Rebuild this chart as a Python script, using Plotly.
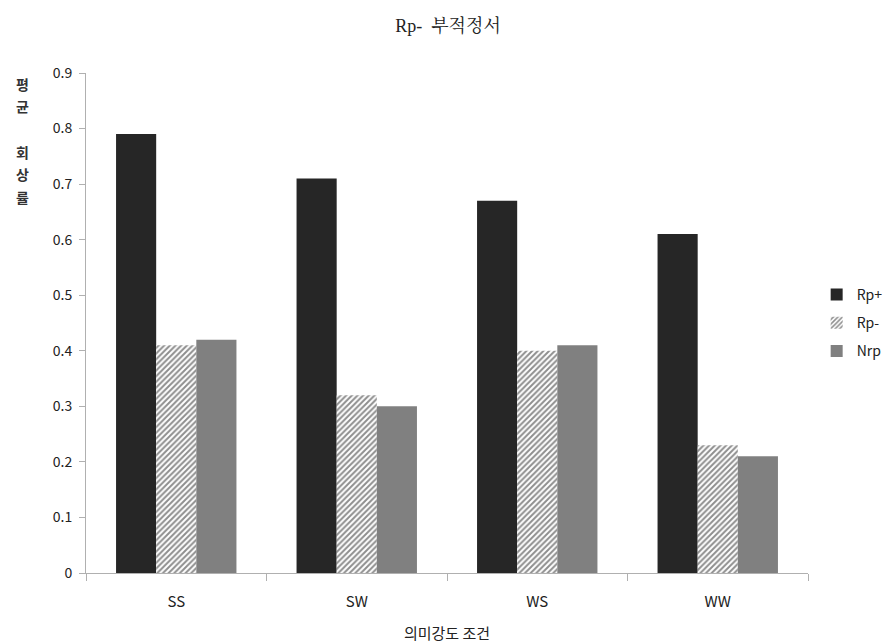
import plotly.graph_objects as go

categories = ["SS", "SW", "WS", "WW"]
rp_plus = [0.79, 0.71, 0.67, 0.61]
rp_minus = [0.41, 0.32, 0.40, 0.23]
nrp = [0.42, 0.30, 0.41, 0.21]
series_names = ["Rp+", "Rp-", "Nrp"]
y_ticks = [0, 0.1, 0.2, 0.3, 0.4, 0.5, 0.6, 0.7, 0.8, 0.9]
y_tick_text = ["0", "0.1", "0.2", "0.3", "0.4", "0.5", "0.6", "0.7", "0.8", "0.9"]
y_title_chars = ["평", "균", "회", "상", "률"]

font_sans = "Noto Sans CJK KR, Noto Sans, sans-serif"

fig = go.Figure()
fig.add_trace(go.Bar(x=categories, y=rp_plus, name=series_names[0], legendgroup="a",
                     marker=dict(color="#262626", line=dict(width=0))))
fig.add_trace(go.Bar(x=categories, y=rp_minus, name=series_names[1], legendgroup="b",
                     marker=dict(color="white", line=dict(width=0),
                                 pattern=dict(shape="/", fgcolor="#1e1e1e", bgcolor="white",
                                              size=4, solidity=0.5))))
fig.add_trace(go.Bar(x=categories, y=nrp, name=series_names[2], legendgroup="c",
                     marker=dict(color="#808080", line=dict(width=0))))

# page body has an 8px default margin, so the figure is sized/offset to compensate
OFF = 8
W, H = 891 - OFF, 644 - OFF
L, R, T, B = 86 - OFF, 83, 73 - OFF, 71
fig.update_layout(
    width=W, height=H,
    paper_bgcolor="white", plot_bgcolor="white",
    margin=dict(l=L, r=R, t=T, b=B, autoexpand=False),
    barmode="group", bargap=0.333, bargroupgap=0,
    font=dict(family=font_sans, size=13, color="#222222"),
    title=dict(text="Rp-  부적정서", x=(448 - OFF) / W, xanchor="center", y=1 - (26 - OFF) / H,
               yanchor="middle",
               font=dict(family="Liberation Serif, Noto Serif CJK KR, serif", size=18, color="#222222")),
    showlegend=True,
    legend=dict(x=1.012, y=0.5, xanchor="left", yanchor="middle",
                font=dict(size=14, color="#222222"), tracegroupgap=7,
                bgcolor="rgba(0,0,0,0)", itemwidth=30),
)
fig.update_xaxes(
    automargin=False,
    showline=True, linecolor="#b0b0b0", linewidth=1,
    ticks="outside", tickson="boundaries", ticklen=7, tickcolor="#b0b0b0",
    showgrid=False, tickfont=dict(size=15, color="#222222"), ticklabelstandoff=15,
    title=dict(text="의미강도 조건", font=dict(size=15, color="#222222"), standoff=18),
)
fig.update_yaxes(
    automargin=False,
    range=[0, 0.9], tickvals=y_ticks, ticktext=y_tick_text,
    showline=True, linecolor="#b0b0b0", linewidth=1,
    ticks="outside", ticklen=6, tickcolor="#b0b0b0",
    showgrid=False, zeroline=False, tickfont=dict(size=14, color="#222222"),
    ticklabelstandoff=4,
)
char_y_px = [84, 106, 152, 174, 197]
for ch, ypx in zip(y_title_chars, char_y_px):
    fig.add_annotation(
        text="<b>" + ch + "</b>", xref="paper", yref="paper",
        x=(22 - OFF - L) / (W - L - R), y=(H - B - (ypx - OFF)) / (H - T - B),
        xanchor="center", yanchor="middle", showarrow=False,
        font=dict(size=14, color="#333333"),
    )
fig.write_html("out.html")
